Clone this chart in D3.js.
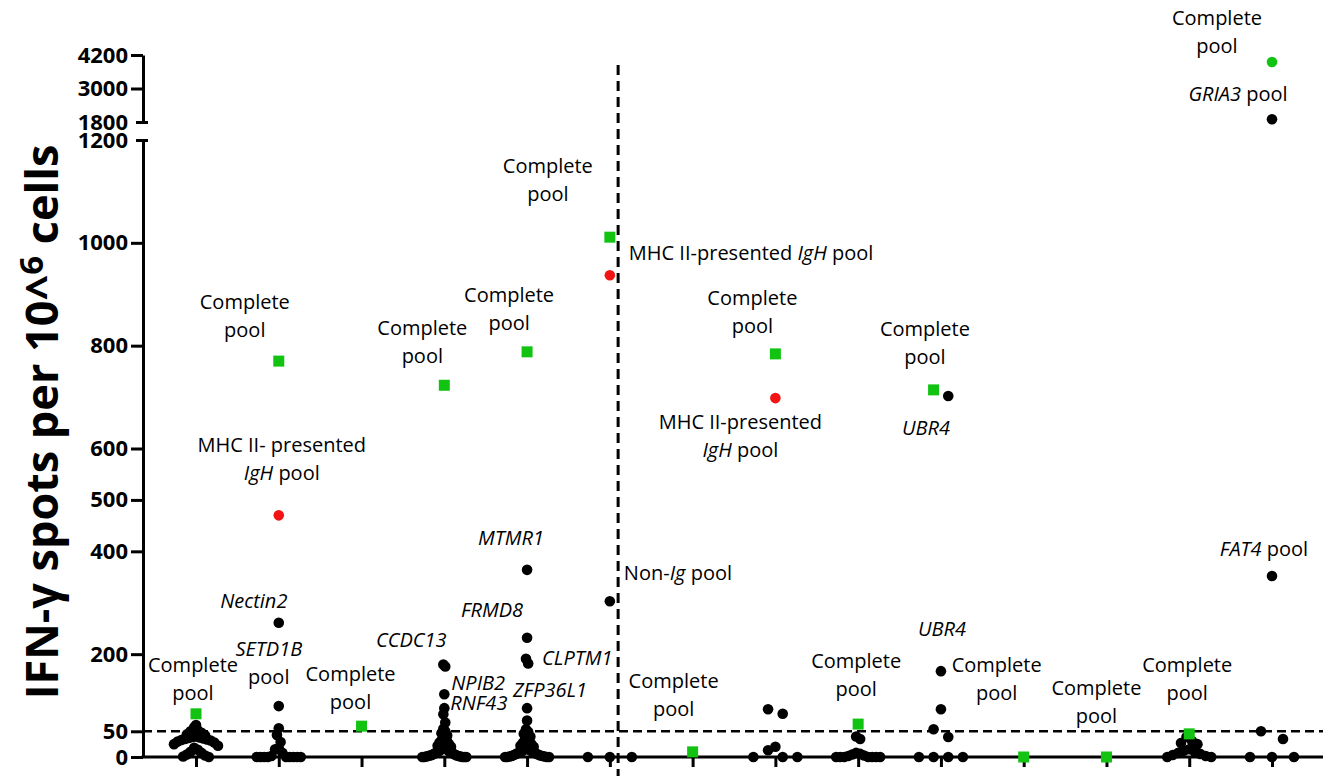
<!DOCTYPE html>
<html>
<head>
<meta charset="utf-8">
<script src="https://cdn.jsdelivr.net/npm/d3@7"></script>
<style>
  body { margin: 0; background: #fff; }
  svg { display: block; font-family: "Open Sans", sans-serif; }
</style>
</head>
<body>
<div id="chart"></div>
<script>
var width = 1323;
var height = 776;

// columns along the x axis (the figure has no x labels)
var groups = d3.range(14);

// black dots, one list per column
var blackValues = [
  [62, 58, 52, 50, 47, 44, 42, 40, 39, 38, 37, 36, 35, 34, 33, 32, 30, 28, 25, 22, 18, 14, 10, 8, 5, 3, 1, 0],
  [261, 99, 56, 43, 29, 17, 15, 8, 2, 0, 0, 0, 0, 0, 0, 0, 0, 0],
  [],
  [180, 176, 122, 95, 83, 67, 55, 50, 46, 42, 38, 35, 32, 30, 28, 25, 22, 20, 18, 16, 15, 14, 12, 11, 10, 9, 8, 7, 6, 5, 4, 3, 3, 2, 2, 1, 1, 0, 0, 0, 0, 0],
  [364, 232, 191, 182, 95, 71, 54, 49, 45, 40, 36, 33, 30, 27, 25, 22, 20, 18, 16, 14, 12, 11, 10, 9, 8, 7, 6, 5, 4, 3, 2, 2, 1, 1, 0, 0, 0, 0],
  [303, 0, 0, 0],
  [],
  [93, 84, 20, 13, 0, 0, 0],
  [40, 35, 8, 6, 5, 3, 2, 0, 0, 0, 0, 0, 0, 0],
  [702, 167, 93, 54, 39, 0, 0, 0, 0],
  [],
  [],
  [39, 31, 27, 25, 15, 12, 10, 8, 6, 4, 2, 0, 0],
  [1900, 352, 50, 35, 0, 0, 0]
];

// "Complete pool" per column (green)
var greenValues = [84, 770, 60, 723, 788, 1011, 10, 784, 64, 714, 0, 0, 45, 3950];
var greenCircleGroups = [13];

// "MHC II-presented IgH pool" (red)
var redGroups = [1, 5, 7];
var redValues = [470, 937, 698];

var lowTicks = [0, 50, 200, 400, 500, 600, 800, 1000, 1200];
var highTicks = [1800, 3000, 4200];
var cutoff = 50;

// annotations: column, value of the marker they belong to, offset of first line
var notes = [
  { g: 0, v: 84, dx: -3, dy: -49, text: "Complete|pool" },
  { g: 1, v: 770, dx: -34, dy: -59, text: "Complete|pool" },
  { g: 1, v: 470, dx: 3, dy: -70, text: "MHC II- presented|*IgH* pool" },
  { g: 1, v: 261, dx: -25, dy: -22, text: "*Nectin2*" },
  { g: 1, v: 99, dx: -10, dy: -57, text: "*SETD1B*|pool" },
  { g: 2, v: 60, dx: -11, dy: -52, text: "Complete|pool" },
  { g: 3, v: 723, dx: -22, dy: -57, text: "Complete|pool" },
  { g: 3, v: 178, dx: -33, dy: -25, text: "*CCDC13*" },
  { g: 3, v: 122, dx: 7, dy: -11, text: "*NPIB2*", anchor: "start" },
  { g: 3, v: 95, dx: 6, dy: -5, text: "*RNF43*", anchor: "start" },
  { g: 4, v: 788, dx: -18, dy: -57, text: "Complete|pool" },
  { g: 4, v: 364, dx: -16, dy: -32, text: "*MTMR1*" },
  { g: 4, v: 232, dx: -35, dy: -28, text: "*FRMD8*" },
  { g: 4, v: 191, dx: 15, dy: -1, text: "*CLPTM1*", anchor: "start" },
  { g: 4, v: 95, dx: 23, dy: -18, text: "*ZFP36L1*" },
  { g: 5, v: 1011, dx: -62, dy: -71, text: "Complete|pool" },
  { g: 5, v: 937, dx: 19, dy: -22, text: "MHC II-presented *IgH* pool", anchor: "start" },
  { g: 5, v: 303, dx: 14, dy: -28, text: "Non-*Ig* pool", anchor: "start" },
  { g: 6, v: 10, dx: -19, dy: -71, text: "Complete|pool" },
  { g: 7, v: 784, dx: -23, dy: -56, text: "Complete|pool" },
  { g: 7, v: 698, dx: -35, dy: 24, text: "MHC II-presented|*IgH* pool" },
  { g: 8, v: 64, dx: -2, dy: -63, text: "Complete|pool" },
  { g: 9, v: 714, dx: -16, dy: -61, text: "Complete|pool" },
  { g: 9, v: 702, dx: -15, dy: 32, text: "*UBR4*" },
  { g: 9, v: 167, dx: 1, dy: -42, text: "*UBR4*" },
  { g: 10, v: 0, dx: -27, dy: -92, text: "Complete|pool" },
  { g: 11, v: 0, dx: -10, dy: -69, text: "Complete|pool" },
  { g: 12, v: 45, dx: -2, dy: -69, text: "Complete|pool" },
  { g: 13, v: 3950, dx: -55, dy: -44, text: "Complete|pool" },
  { g: 13, v: 1900, dx: -34, dy: -25, text: "*GRIA3* pool" },
  { g: 13, v: 352, dx: -8, dy: -27, text: "*FAT4* pool" }
];

var axisX = 143;
var x = d3.scalePoint().domain(groups).range([196, 1272]);
var yLow = d3.scaleLinear().domain([0, 1200]).range([757, 140]);
var yHigh = d3.scaleLinear().domain([1800, 4200]).range([122, 55]);
var y = function (v) { return v > 1200 ? yHigh(v) : yLow(v); };

var svg = d3.select('#chart')
  .append('svg')
  .attr('width', width)
  .attr('height', height)
  .attr('viewBox', '0 0 ' + width + ' ' + height);

// dashed guide lines
svg.append('line')
  .attr('x1', axisX).attr('x2', width)
  .attr('y1', yLow(cutoff)).attr('y2', yLow(cutoff))
  .attr('stroke', '#000').attr('stroke-width', 2.5)
  .attr('stroke-dasharray', '9,5');

var splitX = x(5) + (x(6) - x(5)) * 0.1;
svg.append('line')
  .attr('x1', splitX).attr('x2', splitX)
  .attr('y1', 65).attr('y2', height)
  .attr('stroke', '#000').attr('stroke-width', 3)
  .attr('stroke-dasharray', '10,6');

// y axis, two segments
function styleAxis(g) {
  g.selectAll('path.domain').attr('stroke-width', 3);
  g.selectAll('.tick line').attr('stroke-width', 3);
  g.selectAll('.tick text')
    .attr('font-family', '"Open Sans", sans-serif')
    .attr('font-size', 22)
    .attr('font-weight', 700)
    .attr('fill', '#000');
}

var yAxisLow = svg.append('g')
  .attr('transform', 'translate(' + axisX + ',0)')
  .call(d3.axisLeft(yLow).tickValues(lowTicks).tickFormat(d3.format('d'))
    .tickSize(12).tickSizeOuter(0).tickPadding(3))
  .call(styleAxis);

var yAxisHigh = svg.append('g')
  .attr('transform', 'translate(' + axisX + ',0)')
  .call(d3.axisLeft(yHigh).tickValues(highTicks).tickFormat(d3.format('d'))
    .tickSize(12).tickSizeOuter(0).tickPadding(3))
  .call(styleAxis);

// caps at the break
[yAxisLow, yAxisHigh].forEach(function (g) {
  g.selectAll('.tick')
    .filter(function (d) { return d === 1200 || d === 1800; })
    .select('line')
    .attr('x1', 5).attr('x2', -7);
});

// x axis
svg.append('line')
  .attr('x1', axisX - 1.5).attr('x2', width)
  .attr('y1', yLow(0)).attr('y2', yLow(0))
  .attr('stroke', '#000').attr('stroke-width', 3);

svg.append('g')
  .attr('transform', 'translate(0,' + yLow(0) + ')')
  .call(d3.axisBottom(x).tickSize(10).tickFormat(''))
  .call(function (g) {
    g.select('path.domain').remove();
    g.selectAll('.tick line').attr('stroke-width', 3);
  });

// title
var title = svg.append('text')
  .attr('transform', 'translate(58,422) rotate(-90)')
  .attr('text-anchor', 'middle')
  .attr('font-size', 45)
  .attr('font-weight', 700)
  .attr('fill', '#000');
title.append('tspan').text('IFN-\u03b3 spots per 10^');
title.append('tspan').attr('dy', -15).attr('font-size', 33).text('6');
title.append('tspan').attr('dy', 15).text(' cells');

// collect points per column and spread them like a scatter dot plot
var points = [];
groups.forEach(function (g, i) {
  var col = [];
  blackValues[i].forEach(function (v) { col.push({ g: g, v: v, kind: 'black' }); });
  col.push({ g: g, v: greenValues[i], kind: greenCircleGroups.indexOf(g) >= 0 ? 'greenDot' : 'green' });
  redGroups.forEach(function (rg, k) {
    if (rg === g) col.push({ g: g, v: redValues[k], kind: 'red' });
  });
  swarm(col);
  points = points.concat(col);
});

function swarm(col) {
  col.forEach(function (p) { p.py = y(p.v); });
  var sorted = col.slice().sort(function (a, b) { return b.py - a.py; });
  var bins = [];
  sorted.forEach(function (p) {
    var last = bins[bins.length - 1];
    if (last && last.start - p.py < 10) last.items.push(p);
    else bins.push({ start: p.py, items: [p] });
  });
  var maxN = d3.max(bins, function (b) { return b.items.length; });
  var step = maxN > 1 ? Math.min(22.5, 44 / (maxN - 1)) : 0;
  bins.forEach(function (b) {
    var n = b.items.length;
    // highest values in the middle, the rest alternating left / right
    b.items.sort(function (a, c) { return c.v - a.v; });
    var slots = d3.range(n).map(function (i) { return i - (n - 1) / 2; })
      .sort(function (a, c) { return Math.abs(a) - Math.abs(c) || a - c; });
    b.items.forEach(function (p, i) { p.dx = slots[i] * step; });
  });
}

var green = '#12c312';
var red = '#f21414';

svg.append('g').selectAll('circle')
  .data(points.filter(function (p) { return p.kind !== 'green'; }))
  .enter().append('circle')
  .attr('cx', function (p) { return x(p.g) + p.dx; })
  .attr('cy', function (p) { return p.py; })
  .attr('r', 5.3)
  .attr('fill', function (p) { return p.kind === 'red' ? red : p.kind === 'greenDot' ? green : '#000'; });

svg.append('g').selectAll('rect')
  .data(points.filter(function (p) { return p.kind === 'green'; }))
  .enter().append('rect')
  .attr('x', function (p) { return x(p.g) + p.dx - 5.5; })
  .attr('y', function (p) { return p.py - 5.5; })
  .attr('width', 11)
  .attr('height', 11)
  .attr('fill', green);

// labels
var noteLayer = svg.append('g').attr('font-size', 20).attr('fill', '#000');
notes.forEach(function (n) {
  n.text.split('|').forEach(function (line, li) {
    var t = noteLayer.append('text')
      .attr('x', x(n.g) + n.dx)
      .attr('y', y(n.v) + n.dy + li * 28 + 7)
      .attr('text-anchor', n.anchor || 'middle');
    line.split('*').forEach(function (s, k) {
      if (s) t.append('tspan').attr('font-style', k % 2 ? 'italic' : 'normal').text(s);
    });
  });
});
</script>
</body>
</html>
